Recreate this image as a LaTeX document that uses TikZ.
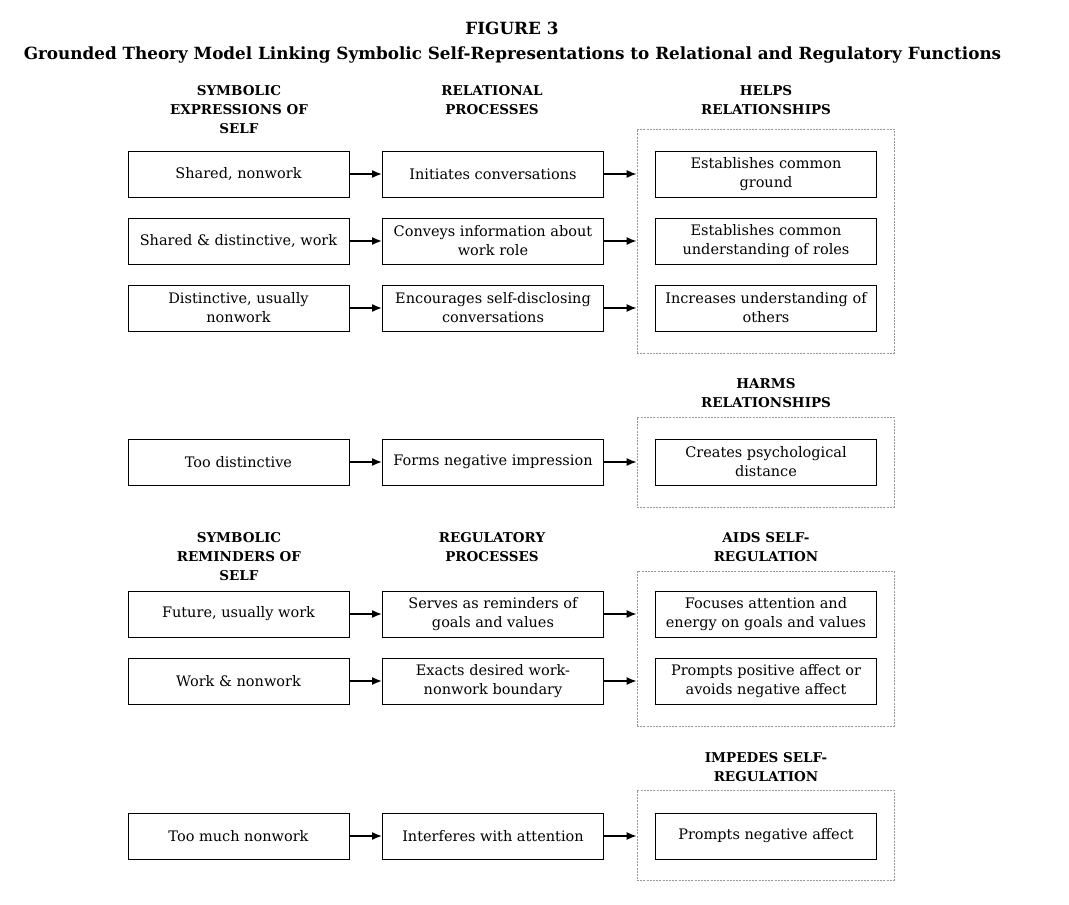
\documentclass[tikz,border=0pt]{standalone}
\usepackage{fontspec}
\setmainfont{DejaVu Serif}
\usetikzlibrary{arrows.meta}

\tikzset{
	procbox/.style={draw, line width=0.9pt, minimum width=221pt, minimum height=46pt,
		inner sep=2pt, align=center, font=\fontsize{14.5}{19}\selectfont},
	grpbox/.style={draw=gray!80, dash pattern=on 2pt off 1.2pt, line width=0.6pt},
	hdr/.style={anchor=north, inner sep=0pt, align=center,
		font=\fontsize{13.5}{19}\selectfont\bfseries},
	arr/.style={-{Latex[length=10pt,width=8pt]}, line width=1.6pt},
}

\begin{document}
\begin{tikzpicture}[x=1pt,y=-1pt]
		\useasboundingbox (0,0) rectangle (1069,905);
		
		% title
		\node[hdr, font=\fontsize{16.8}{20}\selectfont\bfseries] (fig) at (512,22) {FIGURE 3};
		\node[hdr, font=\fontsize{16.8}{20}\selectfont\bfseries] (title) at (512.5,47)
			{Grounded Theory Model Linking Symbolic Self-Representations to Relational and Regulatory Functions};
		
		% headers, upper part
		\node[hdr] (hexpr) at (239,85) {SYMBOLIC\\EXPRESSIONS OF\\SELF};
		\node[hdr] (hrel)  at (492,85) {RELATIONAL\\PROCESSES};
		\node[hdr] (hhelp) at (766,85) {HELPS\\RELATIONSHIPS};
		\node[hdr] (hharm) at (766,378) {HARMS\\RELATIONSHIPS};
		
		% headers, lower part
		\node[hdr] (hrem)  at (239,532) {SYMBOLIC\\REMINDERS OF\\SELF};
		\node[hdr] (hreg)  at (492,532) {REGULATORY\\PROCESSES};
		\node[hdr] (haids) at (766,532) {AIDS SELF-\\REGULATION};
		\node[hdr] (himp)  at (766,752) {IMPEDES SELF-\\REGULATION};
		
		% dashed groups
		\node[grpbox, minimum width=257pt, minimum height=224pt] (ghelp) at (765.5,241) {};
		\node[grpbox, minimum width=257pt, minimum height=90pt]  (gharm) at (765.5,462) {};
		\node[grpbox, minimum width=257pt, minimum height=155pt] (gaids) at (765.5,648.5) {};
		\node[grpbox, minimum width=257pt, minimum height=90pt]  (gimp)  at (765.5,835) {};
		
		% expressions
		\node[procbox] (e1) at (238.5,174) {Shared, nonwork};
		\node[procbox] (e2) at (238.5,241) {Shared \& distinctive, work};
		\node[procbox] (e3) at (238.5,308) {Distinctive, usually\\nonwork};
		\node[procbox] (e4) at (238.5,462) {Too distinctive};
		
		\node[procbox] (r1) at (493,174) {Initiates conversations};
		\node[procbox] (r2) at (493,241) {Conveys information about\\work role};
		\node[procbox] (r3) at (493,308) {Encourages self-disclosing\\conversations};
		\node[procbox] (r4) at (493,462) {Forms negative impression};
		
		\node[procbox] (h1) at (766,174) {Establishes common\\ground};
		\node[procbox] (h2) at (766,241) {Establishes common\\understanding of roles};
		\node[procbox] (h3) at (766,308) {Increases understanding of\\others};
		\node[procbox] (h4) at (766,462) {Creates psychological\\distance};
		
		% reminders
		\node[procbox] (m1) at (238.5,614) {Future, usually work};
		\node[procbox] (m2) at (238.5,681) {Work \& nonwork};
		\node[procbox] (m3) at (238.5,836) {Too much nonwork};
		
		\node[procbox] (g1) at (493,614) {Serves as reminders of\\goals and values};
		\node[procbox] (g2) at (493,681) {Exacts desired work-\\nonwork boundary};
		\node[procbox] (g3) at (493,836) {Interferes with attention};
		
		\node[procbox] (a1) at (766,614) {Focuses attention and\\energy on goals and values};
		\node[procbox] (a2) at (766,681) {Prompts positive affect or\\avoids negative affect};
		\node[procbox] (a3) at (766,836) {Prompts negative affect};
		
		% connectors
		\foreach \s/\p/\g in {e1/r1/ghelp, e2/r2/ghelp, e3/r3/ghelp, e4/r4/gharm,
			m1/g1/gaids, m2/g2/gaids, m3/g3/gimp} {
			\draw[arr] (\s.east) -- (\p.west);
			\draw[arr] (\p.east) -- (\p.east -| \g.west);
		}
		\end{tikzpicture}
\end{document}
